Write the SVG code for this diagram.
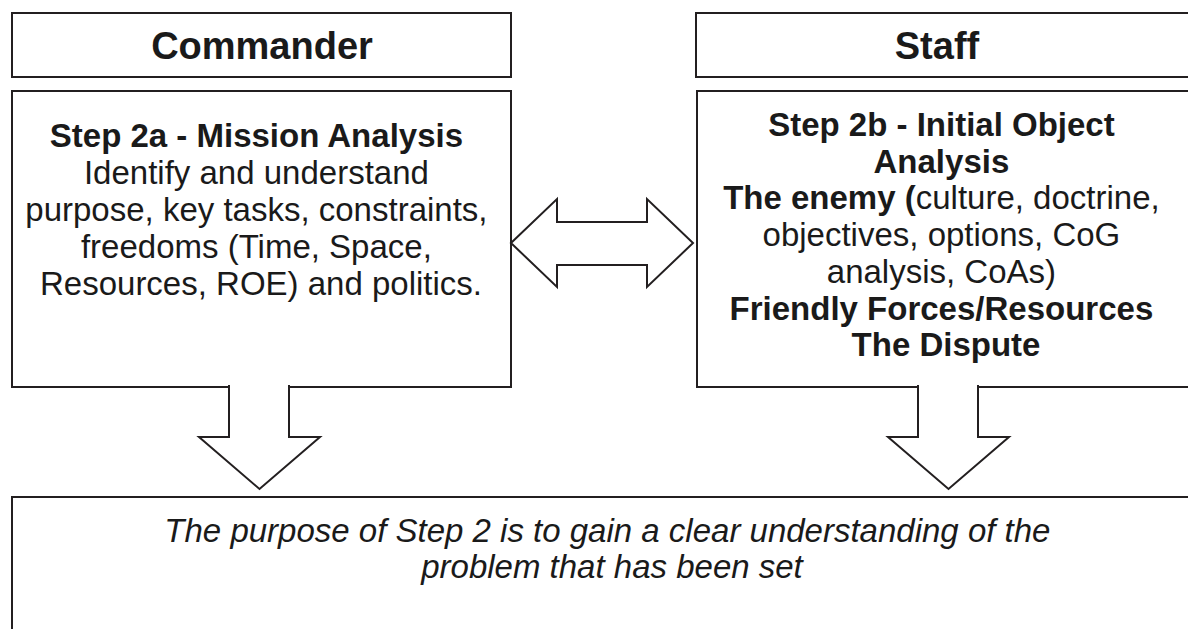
<svg xmlns="http://www.w3.org/2000/svg" width="1188" height="629" viewBox="0 0 1188 629">
  <style>
    .box { fill: #ffffff; stroke: #231f20; stroke-width: 2; }
    .arrow { fill: #ffffff; stroke: #231f20; stroke-width: 2; stroke-linejoin: miter; }
    text { font-family: "Liberation Sans", Arial, sans-serif; fill: #1a1a1a; text-anchor: middle; }
    .head { font-size: 38px; font-weight: bold; }
    .body { font-size: 33px; }
    .b { font-weight: bold; }
    .note { font-size: 33px; font-style: italic; }
  </style>
  <rect width="1188" height="629" fill="#ffffff"/>

  <!-- column headers -->
  <g id="commander-header">
    <rect class="box" x="12" y="13" width="499" height="64"/>
    <text class="head" x="262" y="59">Commander</text>
  </g>
  <g id="staff-header">
    <rect class="box" x="696" y="13" width="510" height="64"/>
    <text class="head" x="937" y="59">Staff</text>
  </g>

  <!-- step 2a -->
  <g id="mission-analysis">
    <rect class="box" x="12" y="91" width="499" height="296"/>
    <text class="body">
      <tspan class="b" x="261" y="147">Step 2a - Mission Analysis</tspan>
      <tspan x="261" y="184">Identify and understand</tspan>
      <tspan x="261" y="221">purpose, key tasks, constraints,</tspan>
      <tspan x="261" y="258">freedoms (Time, Space,</tspan>
      <tspan x="261" y="295">Resources, ROE) and politics.</tspan>
    </text>
  </g>

  <!-- step 2b -->
  <g id="object-analysis">
    <rect class="box" x="697" y="91" width="510" height="296"/>
    <text class="body">
      <tspan class="b" x="946" y="136">Step 2b - Initial Object</tspan>
      <tspan class="b" x="946" y="173">Analysis</tspan>
      <tspan x="946" y="209"><tspan class="b">The enemy (</tspan>culture, doctrine,</tspan>
      <tspan x="946" y="246">objectives, options, CoG</tspan>
      <tspan x="946" y="283">analysis, CoAs)</tspan>
      <tspan class="b" x="946" y="320">Friendly Forces/Resources</tspan>
      <tspan class="b" x="946" y="356">The Dispute</tspan>
    </text>
  </g>

  <!-- step 2 purpose -->
  <g id="purpose">
    <rect class="box" x="12" y="497" width="1200" height="200"/>
    <text class="note">
      <tspan x="612" y="542">The purpose of Step 2 is to gain a clear understanding of the</tspan>
      <tspan x="612" y="578">problem that has been set</tspan>
    </text>
  </g>

  <!-- block arrows -->
  <g id="connectors">
    <path class="arrow" d="M511,243 L557,199 V222 H647 V199 L693,243 L647,287 V265 H557 V287 Z"/>
    <path class="arrow" d="M229,385 V437 H199 L259.5,489 L320,437 H289 V385"/>
    <path class="arrow" d="M918,385 V437 H888 L948.5,489 L1009,437 H978 V385"/>
  </g>
</svg>
